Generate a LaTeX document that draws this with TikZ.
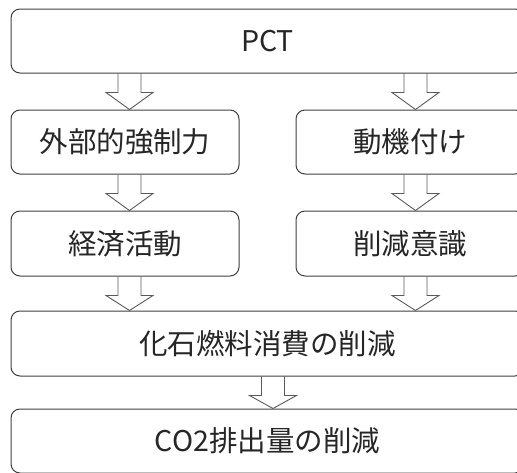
\documentclass[tikz,border=0pt]{standalone}
\usepackage{fontspec}
\newfontfamily\jp{Noto Sans CJK JP}
\usetikzlibrary{calc}
\definecolor{boxline}{HTML}{404040}
\definecolor{arrline}{HTML}{5A5A5A}
\definecolor{txt}{HTML}{262626}
\tikzset{
  box/.style={draw=boxline, line width=1pt, rounded corners=9pt, fill=white,
    inner sep=0pt, text=txt, font=\jp\fontsize{28.5}{32}\selectfont, anchor=center},
  arr/.style={draw=arrline, line width=0.9pt, line join=miter},
}
\newcommand\blockarr[3]{%
  \draw[arr] let \p1=(#1 |- #2.south), \p2=(#1 |- #3.north) in
    (\x1-11.5pt,\y1) -- (\x1-11.5pt,\y1-19pt) -- (\x1-23.5pt,\y1-19pt) -- (\x2,\y2)
    -- (\x1+23.5pt,\y1-19pt) -- (\x1+11.5pt,\y1-19pt) -- (\x1+11.5pt,\y1);}
\begin{document}
\begin{tikzpicture}[x=1pt,y=1pt]
\useasboundingbox (0,0) rectangle (517,-472);
\clip (0,0) rectangle (517,-472);
\node[box, minimum width=513, minimum height=64] (pct) at (267.5,-41) {PCT};
\node[box, minimum width=228, minimum height=64] (ext) at (125,-142) {外部的強制力};
\node[box, minimum width=228, minimum height=64] (mot) at (410,-142) {動機付け};
\node[box, minimum width=228, minimum height=65] (eco) at (125,-243.5) {経済活動};
\node[box, minimum width=228, minimum height=65] (awr) at (410,-243.5) {削減意識};
\node[box, minimum width=513, minimum height=65] (fos) at (267.5,-343.5) {化石燃料消費の削減};
\node[box, minimum width=513, minimum height=64] (co2) at (267.5,-441) {CO2排出量の削減};
\coordinate (xl) at (129.5,0);
\coordinate (xr) at (415.5,0);
\coordinate (xm) at (273,0);
\blockarr{xl}{pct}{ext}
\blockarr{xr}{pct}{mot}
\blockarr{xl}{ext}{eco}
\blockarr{xr}{mot}{awr}
\blockarr{xl}{eco}{fos}
\blockarr{xr}{awr}{fos}
\blockarr{xm}{fos}{co2}
\end{tikzpicture}
\end{document}
